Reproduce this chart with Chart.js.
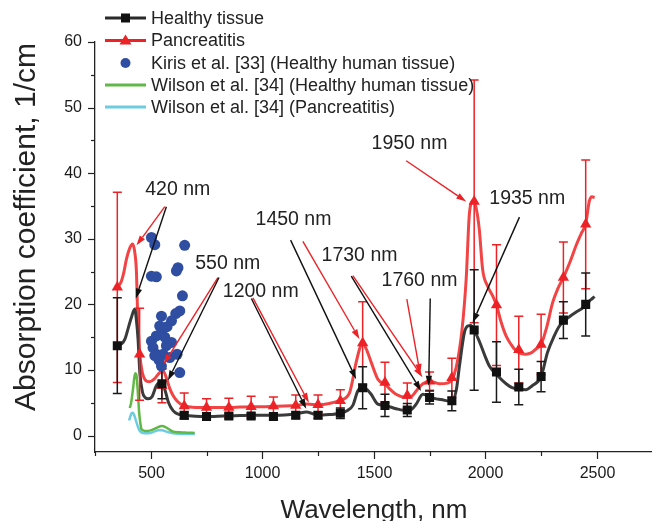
<!DOCTYPE html>
<html><head><meta charset="utf-8">
<script src="https://cdn.jsdelivr.net/npm/chart.js@4.4.0/dist/chart.umd.min.js"></script>
<style>html,body{margin:0;padding:0;background:#fff;overflow:hidden}canvas{display:block}</style>
</head><body><canvas id="c" width="658" height="521"></canvas>
<script>
// ---------- data ----------
const healthyCurveX = [350,370,384,400,413,428,436,443,451,463,475,488,505,525,540,552,565,580,600,620,650,700,750,800,850,900,950,1000,1050,1100,1150,1200,1250,1300,1350,1380,1406,1428,1450,1470,1488,1518,1550,1600,1650,1670,1690,1720,1750,1780,1800,1850,1870,1884,1906,1921,1935,1950,1965,1981,2000,2018,2050,2093,2120,2150,2182,2210,2250,2279,2309,2330,2350,2380,2406,2430,2450,2466,2480,2490];
const healthyCurveY = [13.7,14.0,14.7,16.5,18.0,19.3,17.5,14.7,9.6,6.6,5.8,5.6,5.9,7.6,8.1,8.0,6.8,5.0,3.8,3.3,3.1,2.95,2.9,2.95,3.0,3.05,3.1,3.1,3.1,3.15,3.3,3.6,3.1,3.2,3.4,3.8,4.6,6.8,7.4,7.0,6.3,4.8,4.6,4.1,3.8,4.0,4.8,6.3,5.9,5.6,5.5,5.2,7.0,10.6,15.7,16.7,16.8,16.1,15.0,13.7,12.0,10.6,9.3,7.9,7.3,7.1,7.0,7.6,9.0,12.7,15.2,16.6,17.4,18.2,18.8,19.3,19.8,20.5,20.9,21.2];

const pancCurveX = [350,360,369,380,391,405,418,428,436,440,446,451,460,473,495,515,540,555,570,585,600,620,645,670,700,750,800,850,900,950,1000,1050,1100,1150,1200,1250,1300,1350,1391,1421,1440,1450,1465,1488,1518,1550,1600,1645,1670,1690,1720,1750,1794,1830,1850,1870,1895,1914,1929,1946,1960,1973,1988,2010,2033,2050,2070,2093,2115,2138,2160,2182,2205,2227,2250,2275,2302,2325,2350,2380,2406,2430,2450,2466,2478,2490];
const pancCurveY = [22.6,23.0,23.6,25.0,26.9,28.5,29.2,28.0,24.8,19.8,15.0,12.4,10.0,8.6,8.2,8.6,9.6,9.9,8.8,7.2,6.1,5.2,4.6,4.4,4.3,4.3,4.3,4.3,4.35,4.4,4.4,4.45,4.5,4.6,4.8,4.7,4.9,5.4,6.5,11.2,13.6,14.1,13.3,11.2,8.6,7.8,6.3,5.8,6.0,6.8,7.9,8.3,7.9,8.0,8.5,10.5,16.0,23.8,34.0,35.8,34.5,31.4,25.3,22.8,21.3,19.9,17.4,15.2,13.9,12.9,12.5,12.4,12.6,13.2,13.9,16.5,20.3,22.4,24.1,26.5,28.9,30.8,32.3,35.7,36.4,36.3];

const healthyMarkX = [350,550,650,750,850,950,1050,1150,1250,1350,1450,1550,1650,1750,1850,1950,2050,2150,2250,2350,2450];
const healthyMarkY = [13.7,7.9,3.1,2.9,3.0,3.0,2.9,3.1,3.1,3.4,7.3,4.6,3.9,5.8,5.3,16.1,9.7,7.4,9.0,17.6,20.0];
const healthyErr   = [7.3,2.3,0.5,0.4,0.4,0.4,0.4,0.5,0.5,0.8,3.2,1.7,1.0,1.0,1.5,9.2,4.6,2.7,2.3,2.8,4.8];

const pancMarkX = [350,450,550,650,750,850,950,1050,1150,1250,1350,1450,1550,1650,1750,1850,1950,2050,2150,2250,2350,2450];
const pancMarkY = [22.6,12.4,7.6,4.5,4.3,4.3,4.4,4.5,4.6,4.7,5.3,14.1,8.1,6.1,8.3,8.8,35.7,19.9,13.1,13.9,24.1,32.2];
const pancErr   = [14.5,7.0,2.6,2.0,1.3,1.4,1.6,1.4,1.6,1.5,1.7,6.3,3.1,1.9,1.4,3.0,18.5,9.2,5.1,4.6,5.4,9.8];

const kirisX = [503,518,503,525,652,622,615,642,630,612,548,593,540,573,548,525,503,563,593,510,570,525,555,618,537,548,630,518,585];
const kirisY = [30.2,29.1,24.3,24.2,29.0,25.6,25.1,21.3,19.0,18.6,18.2,17.5,16.7,16.6,15.6,15.2,14.4,15.0,14.2,13.4,13.7,12.4,12.4,12.4,11.5,10.6,9.6,12.2,11.9];

const wilsonHealthyX = [406,412,420,427,431,436,440,444,448,453,458,465,480,500,515,533,550,566,585,600,630,660,697];
const wilsonHealthyY = [4.2,5.0,7.0,9.0,9.5,9.2,7.6,5.6,3.5,2.0,1.0,0.8,0.7,0.8,1.0,1.3,1.45,1.3,0.9,0.6,0.5,0.45,0.4];
const wilsonPancX = [403,408,414,420,427,436,444,451,465,490,515,533,550,570,600,650,697];
const wilsonPancY = [2.3,2.9,3.4,3.5,3.0,2.0,1.2,0.7,0.4,0.35,0.6,0.8,0.8,0.6,0.35,0.25,0.25];

const xTickValues = [250,500,750,1000,1250,1500,1750,2000,2250,2500];
const xLabelStep = 500;
const yTickValues = [0,5,10,15,20,25,30,35,40,45,50,55,60];
const yLabelStep = 10;

const legendLabels = ["Healthy tissue","Pancreatitis","Kiris et al. [33] (Healthy human tissue)","Wilson et al. [34] (Healthy human tissue)","Wilson et al. [34] (Pancreatitis)"];

// annotations: label text, label anchor (data), arrows [from -> to] in data units
const annLabels = ["420 nm","550 nm","1200 nm","1450 nm","1730 nm","1760 nm","1950 nm","1935 nm"];
const annLabelX = [621,845,993,1140,1436,1705,1660,2188];
const annLabelY = [37.5,26.2,22.0,32.9,27.4,23.7,44.5,36.2];
const arrowColor = ['r','k','r','k','r','k','k','r','k','r','r','k','r','k'];
const arrowX0 = [563,570,801,806,958,951,1127,1182,1399,1406,1648,1753,1645,2153];
const arrowY0 = [34.9,34.9,24.1,24.1,21.0,20.9,29.8,29.6,24.3,24.4,20.8,20.9,41.9,33.3];
const arrowX1 = [436,433,558,577,1209,1197,1421,1436,1712,1718,1708,1746,1914,1943];
const arrowY1 = [29.0,20.9,10.9,8.4,5.0,4.1,8.6,14.7,6.8,8.9,9.4,7.6,35.7,17.2];

// ---------- styles ----------
const BLACK = '#2a2a2a', RED = '#ec2227', BLUE = '#2f4ea2', GREEN = '#62b846', CYAN = '#6dcde0';
const FONT = "'Liberation Sans', Arial, sans-serif";
const zip = (xs, ys) => xs.map((x, i) => ({x, y: ys[i]}));

const datasets = [
  {label: legendLabels[2], data: zip(kirisX, kirisY), showLine: false, pointStyle: 'circle', pointRadius: 5.5, backgroundColor: BLUE, borderColor: BLUE, borderWidth: 0},
  {label: legendLabels[0], data: zip(healthyMarkX, healthyMarkY), showLine: false, pointStyle: 'rect', pointRadius: 6.4, backgroundColor: '#111', borderColor: '#111', borderWidth: 0, errors: healthyErr, errColor: '#1a1a1a'},
  {label: legendLabels[1], data: zip(pancMarkX, pancMarkY), showLine: false, pointStyle: 'triangle', pointRadius: 6.5, backgroundColor: RED, borderColor: RED, borderWidth: 0, errors: pancErr, errColor: RED},
  {label: 'healthy curve', data: zip(healthyCurveX, healthyCurveY), showLine: true, pointRadius: 0, borderColor: '#3a3a3a', borderWidth: 3, cubicInterpolationMode: 'monotone'},
  {label: 'panc curve', data: zip(pancCurveX, pancCurveY), showLine: true, pointRadius: 0, borderColor: '#f24444', borderWidth: 3, cubicInterpolationMode: 'monotone'},
  {label: legendLabels[3], data: zip(wilsonHealthyX, wilsonHealthyY), showLine: true, pointRadius: 0, borderColor: GREEN, borderWidth: 2.5, cubicInterpolationMode: 'monotone'},
  {label: legendLabels[4], data: zip(wilsonPancX, wilsonPancY), showLine: true, pointRadius: 0, borderColor: CYAN, borderWidth: 2.5, cubicInterpolationMode: 'monotone'}
];

function arrow(ctx, x0, y0, x1, y1, color) {
  const ang = Math.atan2(y1 - y0, x1 - x0), L = 10, W = 3.2;
  ctx.strokeStyle = color; ctx.fillStyle = color; ctx.lineWidth = 1.4;
  ctx.beginPath(); ctx.moveTo(x0, y0);
  ctx.lineTo(x1 - L * Math.cos(ang), y1 - L * Math.sin(ang)); ctx.stroke();
  ctx.beginPath(); ctx.moveTo(x1, y1);
  ctx.lineTo(x1 - L * Math.cos(ang) + W * Math.sin(ang), y1 - L * Math.sin(ang) - W * Math.cos(ang));
  ctx.lineTo(x1 - L * Math.cos(ang) - W * Math.sin(ang), y1 - L * Math.sin(ang) + W * Math.cos(ang));
  ctx.closePath(); ctx.fill();
}

const deco = {
  id: 'deco',
  beforeDatasetDraw(chart, args) {
    const ds = chart.data.datasets[args.index];
    if (!ds.errors) return;
    const {ctx, scales: {x, y}} = chart;
    ctx.save(); ctx.strokeStyle = ds.errColor; ctx.lineWidth = 1.5;
    ds.data.forEach((p, i) => {
      const px = x.getPixelForValue(p.x), t = y.getPixelForValue(p.y + ds.errors[i]), b = y.getPixelForValue(p.y - ds.errors[i]);
      ctx.beginPath(); ctx.moveTo(px, t); ctx.lineTo(px, b);
      ctx.moveTo(px - 4.5, t); ctx.lineTo(px + 4.5, t);
      ctx.moveTo(px - 4.5, b); ctx.lineTo(px + 4.5, b); ctx.stroke();
    });
    ctx.restore();
  },
  afterDraw(chart) {
    const {ctx, scales: {x, y}, chartArea: ca} = chart;
    ctx.save();
    // tick marks and x tick labels
    ctx.strokeStyle = '#222'; ctx.lineWidth = 1.2;
    ctx.fillStyle = '#1a1a1a'; ctx.font = '16px ' + FONT; ctx.textAlign = 'center'; ctx.textBaseline = 'middle';
    x.ticks.forEach(t => {
      const major = t.value % xLabelStep === 0;
      const px = Math.round(x.getPixelForValue(t.value)) + 0.5, len = major ? 7 : 4;
      ctx.beginPath(); ctx.moveTo(px, ca.bottom); ctx.lineTo(px, ca.bottom + len); ctx.stroke();
      if (major) ctx.fillText(String(t.value), px, ca.bottom + 22);
    });
    y.ticks.forEach(t => {
      const py = Math.round(y.getPixelForValue(t.value)) + 0.5, len = t.value % yLabelStep === 0 ? 7 : 4;
      ctx.beginPath(); ctx.moveTo(ca.left - len, py); ctx.lineTo(ca.left, py); ctx.stroke();
    });
    // axis titles
    ctx.fillStyle = '#222';
    ctx.font = '26px ' + FONT;
    ctx.fillText('Wavelength, nm', 374, 511);
    ctx.save(); ctx.translate(27, 227); ctx.rotate(-Math.PI / 2);
    ctx.font = '30px ' + FONT; ctx.fillText('Absorption coefficient, 1/cm', 0, 0); ctx.restore();
    // annotations
    ctx.font = '19.5px ' + FONT; ctx.fillStyle = '#222';
    annLabels.forEach((s, i) => ctx.fillText(s, x.getPixelForValue(annLabelX[i]), y.getPixelForValue(annLabelY[i])));
    arrowX0.forEach((v, i) => arrow(ctx, x.getPixelForValue(v), y.getPixelForValue(arrowY0[i]),
      x.getPixelForValue(arrowX1[i]), y.getPixelForValue(arrowY1[i]), arrowColor[i] === 'r' ? RED : '#111'));
    // legend
    const rows = [18, 40.5, 63, 85, 107], lx0 = 105, lx1 = 146, tx = 151;
    ctx.textAlign = 'left'; ctx.font = '18px ' + FONT;
    legendLabels.forEach((s, i) => {
      const ry = rows[i];
      if (i !== 2) {
        ctx.strokeStyle = [BLACK, RED, null, GREEN, CYAN][i]; ctx.lineWidth = 3;
        ctx.beginPath(); ctx.moveTo(lx0, ry); ctx.lineTo(lx1, ry); ctx.stroke();
      }
      const mx = (lx0 + lx1) / 2;
      if (i === 0) { ctx.fillStyle = '#111'; ctx.fillRect(mx - 4.5, ry - 4.5, 9, 9); }
      if (i === 1) { ctx.fillStyle = RED; ctx.beginPath(); ctx.moveTo(mx, ry - 6); ctx.lineTo(mx + 6, ry + 4); ctx.lineTo(mx - 6, ry + 4); ctx.closePath(); ctx.fill(); }
      if (i === 2) { ctx.fillStyle = BLUE; ctx.beginPath(); ctx.arc(mx, ry, 5, 0, Math.PI * 2); ctx.fill(); }
      ctx.fillStyle = '#222'; ctx.fillText(s, tx, ry + 1);
    });
    ctx.restore();
  }
};

new Chart(document.getElementById('c'), {
  type: 'scatter',
  data: {datasets},
  options: {
    responsive: false, animation: false, devicePixelRatio: 1,
    layout: {padding: {top: 42, right: 0, bottom: 0, left: 0}},
    plugins: {legend: {display: false}, tooltip: {enabled: false}},
    elements: {line: {tension: 0}},
    scales: {
      x: {type: 'linear', min: 250, max: 2745,
        afterFit: s => { s.height = 69; },
        afterBuildTicks: s => { s.ticks = xTickValues.map(v => ({value: v})); },
        border: {display: true, color: '#222', width: 1.3},
        grid: {display: false},
        ticks: {display: false}},
      y: {type: 'linear', min: -2.5, max: 60,
        afterFit: s => { s.width = 95; },
        afterBuildTicks: s => { s.ticks = yTickValues.map(v => ({value: v})); },
        border: {display: true, color: '#222', width: 1.3},
        grid: {display: true, drawOnChartArea: false, drawTicks: true, tickLength: 7, tickColor: 'rgba(0,0,0,0)'},
        ticks: {autoSkip: false, padding: 6, color: '#1a1a1a',
          font: {family: FONT, size: 16}, callback: v => v % yLabelStep === 0 ? String(v) : ''}}
    }
  },
  plugins: [deco]
});
</script>
</body></html>
